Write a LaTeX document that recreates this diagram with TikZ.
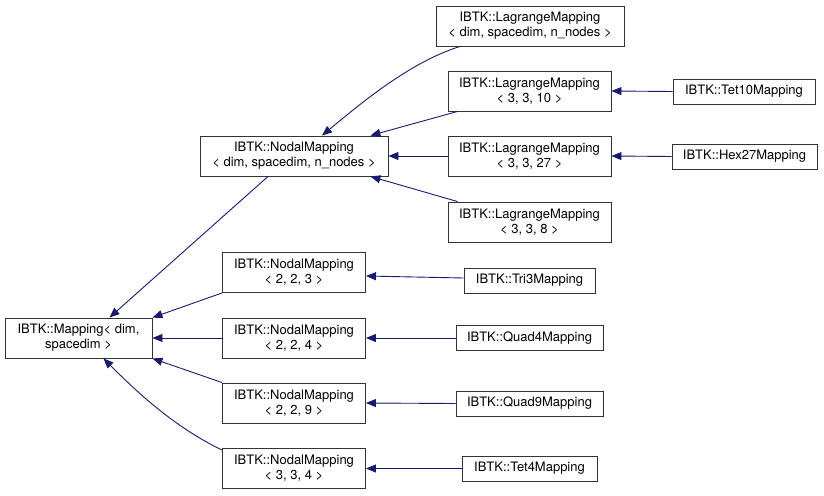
\documentclass[tikz,border=0pt]{standalone}
\usepackage{fontspec}
\setmainfont{TeX Gyre Heros}
\usetikzlibrary{arrows.meta}
\definecolor{midnight}{HTML}{191970}

\begin{document}
\begin{tikzpicture}[x=1pt,y=-1pt,
  cls/.style={draw=black!80, line width=0.9pt, fill=white, inner sep=0pt, align=center, font=\fontsize{13}{15}\selectfont},
  big/.style={cls, minimum height=40pt},
  leaf/.style={cls, minimum height=25pt},
  edge/.style={{Triangle[length=10pt,width=8pt]}-, color=midnight, line width=0.9pt}]
\useasboundingbox (0,0) rectangle (824,495);

% base class and first level
\node[big, minimum width=147pt] (map) at (78.5,338) {IBTK::Mapping< dim,\\ spacedim >};
\node[big, minimum width=188pt] (nodal) at (294,156) {IBTK::NodalMapping\\< dim, spacedim, n\_nodes >};
\node[big, minimum width=143pt] (n223) at (294,272.5) {IBTK::NodalMapping\\< 2, 2, 3 >};
\node[big, minimum width=143pt] (n224) at (294,338) {IBTK::NodalMapping\\< 2, 2, 4 >};
\node[big, minimum width=143pt] (n229) at (294,403) {IBTK::NodalMapping\\< 2, 2, 9 >};
\node[big, minimum width=143pt] (n334) at (294,468.5) {IBTK::NodalMapping\\< 3, 3, 4 >};

% lagrange mappings
\node[big, minimum width=188pt] (lagd) at (530,26) {IBTK::LagrangeMapping\\< dim, spacedim, n\_nodes >};
\node[big, minimum width=163pt] (l10) at (529.5,91) {IBTK::LagrangeMapping\\< 3, 3, 10 >};
\node[big, minimum width=163pt] (l27) at (529.5,156) {IBTK::LagrangeMapping\\< 3, 3, 27 >};
\node[big, minimum width=163pt] (l8) at (529.5,222) {IBTK::LagrangeMapping\\< 3, 3, 8 >};

% concrete element mappings
\node[leaf, minimum width=142pt] (tet10) at (744,91.5) {IBTK::Tet10Mapping};
\node[leaf, minimum width=145pt] (hex27) at (744.5,156.5) {IBTK::Hex27Mapping};
\node[leaf, minimum width=131pt] (tri3) at (529.5,280.5) {IBTK::Tri3Mapping};
\node[leaf, minimum width=147pt] (quad4) at (529.5,338) {IBTK::Quad4Mapping};
\node[leaf, minimum width=147pt] (quad9) at (529.5,403.5) {IBTK::Quad9Mapping};
\node[leaf, minimum width=135pt] (tet4) at (529.5,468.5) {IBTK::Tet4Mapping};

% inheritance arrows, tip at the base class
\draw[edge] ([xshift=31]map.north) -- ([xshift=-26]nodal.south);
\draw[edge] (map.north east) -- (n223.south west);
\draw[edge] (map.east) -- (n224.west);
\draw[edge] (map.south east) -- (n229.north west);
\draw[edge] ([xshift=25]map.south) .. controls (130,385) and (170,425) .. ([yshift=-2]n334.north west);

\draw[edge] ([xshift=28]nodal.north) .. controls (360,104) and (410,62) .. ([xshift=-70]lagd.south);
\draw[edge] ([xshift=-18]nodal.north east) -- ([xshift=10]l10.south west);
\draw[edge] (nodal.east) -- (l27.west);
\draw[edge] ([xshift=-18]nodal.south east) -- ([xshift=10]l8.north west);

\draw[edge] (l10.east) -- (tet10.west);
\draw[edge] (l27.east) -- (hex27.west);
\draw[edge] ([yshift=-3.5]n223.east) -- ([yshift=2.5]tri3.west);
\draw[edge] (n224.east) -- (quad4.west);
\draw[edge] (n229.east) -- (quad9.west);
\draw[edge] (n334.east) -- (tet4.west);

\end{tikzpicture}
\end{document}
